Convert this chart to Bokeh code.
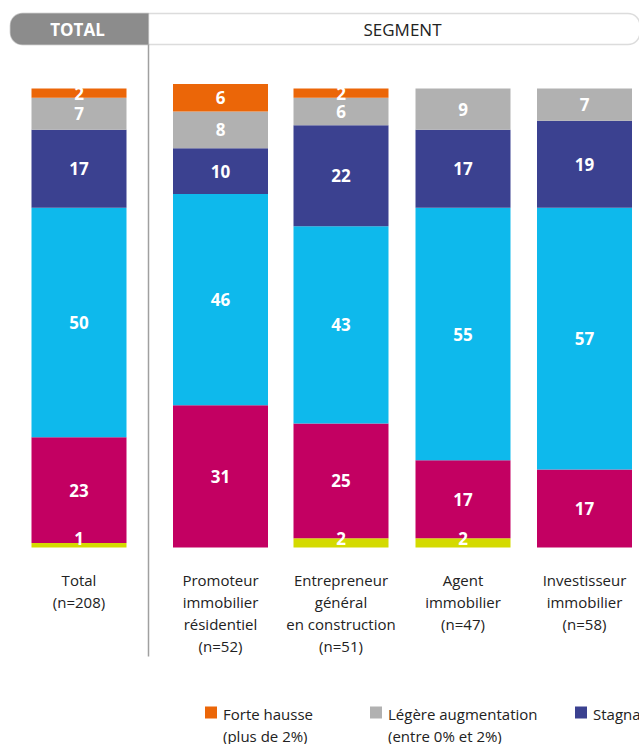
import numpy as np
from bokeh.plotting import figure
from bokeh.models import Range1d, BoxAnnotation, ColumnDataSource
from bokeh.core.properties import value
from bokeh.embed import file_html
from bokeh.resources import INLINE

# ---------------- data ----------------
categories = [
    "Total\n(n=208)",
    "Promoteur\nimmobilier\nrésidentiel\n(n=52)",
    "Entrepreneur\ngénéral\nen construction\n(n=51)",
    "Agent\nimmobilier\n(n=47)",
    "Investisseur\nimmobilier\n(n=58)",
]
# series listed from bottom of the stack to the top
series_names = [
    "Ne sait pas",
    "Forte baisse",
    "Légère baisse",
    "Stagnation",
    "Légère augmentation\n(entre 0% et 2%)",
    "Forte hausse\n(plus de 2%)",
]
ne_sait_pas = [1, 0, 2, 2, 0]
forte_baisse = [23, 31, 25, 17, 17]
legere_baisse = [50, 46, 43, 55, 57]
stagnation = [17, 10, 22, 17, 19]
legere_augmentation = [7, 8, 6, 9, 7]
forte_hausse = [2, 6, 2, 0, 0]
series_values = [ne_sait_pas, forte_baisse, legere_baisse, stagnation,
                 legere_augmentation, forte_hausse]
series_colors = ["#D4DA00", "#C30062", "#0EB9EC", "#3B4190", "#B1B1B1", "#EB6608"]
legend_order = [5, 4, 3]  # visible legend entries (chart is cropped on the right)
header_total = "TOTAL"
header_segment = "SEGMENT"

# ---------------- layout ----------------
W, H = 639, 744
BASE = 547.0     # pixel row of the bars' baseline
SCALE = 4.59     # pixels per percentage point


def Y(py):
    return (BASE - py) / SCALE


bar_x = [78.5, 220.0, 340.5, 462.5, 584.0]
bar_w = 95

p = figure(width=W, height=H, output_backend="svg", toolbar_location=None,
           x_range=Range1d(0, W), y_range=Range1d(Y(H), Y(0)),
           x_axis_location=None, y_axis_location=None, min_border=0)
p.outline_line_color = None
p.xgrid.visible = False
p.ygrid.visible = False
p.background_fill_color = "white"
p.border_fill_color = "white"

FONT = value("Open Sans")

# stacked bars
cum = np.zeros(len(categories))
lab_x, lab_y, lab_t = [], [], []
for vals, col in zip(series_values, series_colors):
    v = np.array(vals, dtype=float)
    bottom = cum.copy()
    top = cum + v
    src = ColumnDataSource(dict(x=bar_x, bottom=bottom, top=top))
    p.vbar(x="x", bottom="bottom", top="top", width=bar_w, source=src,
           fill_color=col, line_color=None)
    for i, val in enumerate(vals):
        if val > 0:
            lab_x.append(bar_x[i])
            lab_y.append(max((bottom[i] + top[i]) / 2, 1.9))
            lab_t.append(str(val))
    cum = top

p.text(x=lab_x, y=lab_y, text=lab_t, text_color="white", text_font=FONT,
       text_font_size="17px", text_font_style="bold", text_align="center",
       text_baseline="middle")

# category labels
p.text(x=bar_x, y=[Y(569)] * len(bar_x), text=categories, text_color="#222222",
       text_font=FONT, text_font_size="15px", text_align="center",
       text_baseline="top", text_line_height=1.1)

# header
p.add_layout(BoxAnnotation(left=10, right=W + 0.5, top=Y(13), bottom=Y(44),
                           fill_color="white", fill_alpha=1,
                           line_color="#8a8a8a", line_width=1.5,
                           border_radius=12, level="underlay"))
p.add_layout(BoxAnnotation(left=10, right=148, top=Y(13), bottom=Y(44),
                           fill_color="#8c8c8c", fill_alpha=1,
                           line_color="#8c8c8c", line_width=1.5,
                           border_radius=(12, 0, 0, 12), level="underlay"))
p.text(x=[77], y=[Y(29)], text=[header_total], text_color="white", text_font=FONT,
       text_font_size="17px", text_font_style="bold", text_align="center",
       text_baseline="middle")
p.text(x=[402], y=[Y(29)], text=[header_segment], text_color="#222222",
       text_font=FONT, text_font_size="17px", text_align="center",
       text_baseline="middle")

# divider
p.segment(x0=[148], y0=[Y(44)], x1=[148], y1=[Y(656)], line_color="#a0a0a0",
          line_width=1.5)

# legend (cropped on the right like the reference)
leg_sq_x = [210.5, 375.5, 580.5]
p.rect(x=leg_sq_x, y=[Y(712)] * 3, width=12, height=12 / SCALE,
       fill_color=[series_colors[k] for k in legend_order], line_color=None)
p.text(x=[x + 12 for x in leg_sq_x], y=[Y(703)] * 3,
       text=[series_names[k] for k in legend_order], text_color="#222222",
       text_font=FONT, text_font_size="15px", text_align="left",
       text_baseline="top", text_line_height=1.1)

open("out.html", "w").write(file_html(p, INLINE))
